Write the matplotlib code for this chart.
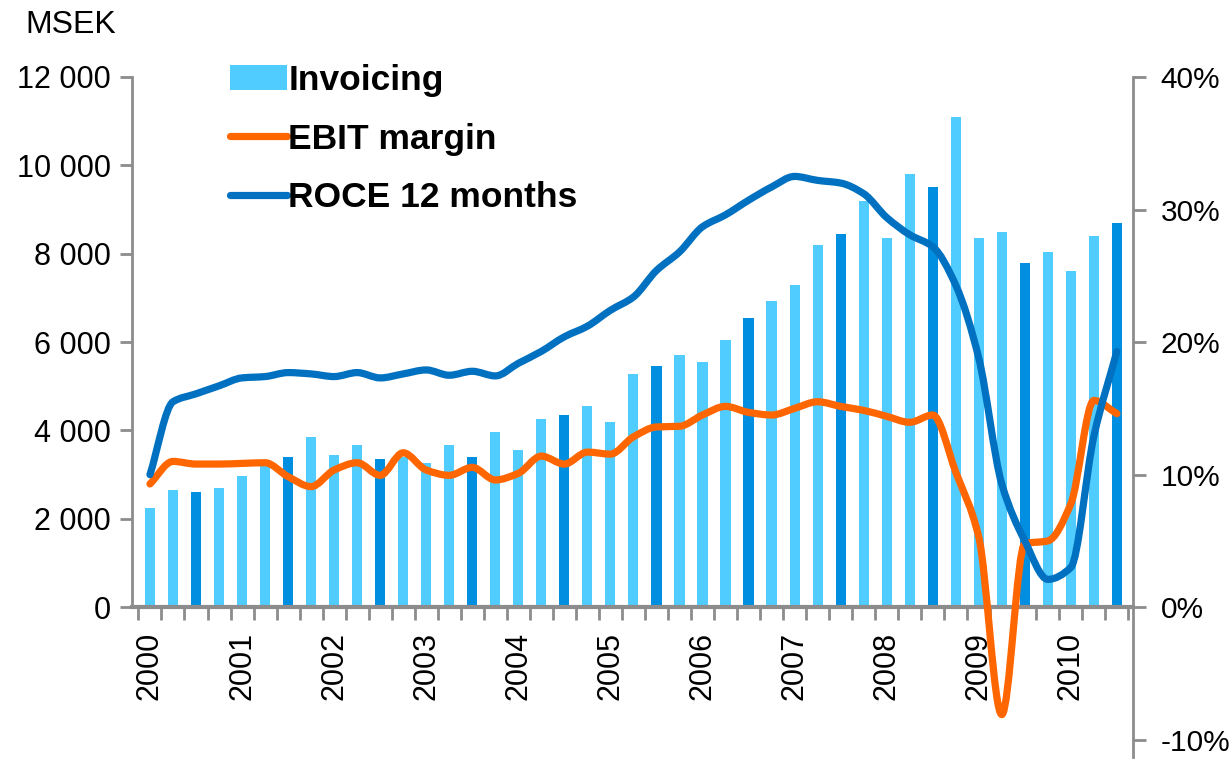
import matplotlib
matplotlib.use("Agg")
import matplotlib.pyplot as plt
from matplotlib.path import Path
from matplotlib.patches import PathPatch, Patch
from matplotlib.lines import Line2D
from matplotlib.ticker import FuncFormatter
import numpy as np

plt.rcParams['font.family'] = ['Liberation Sans', 'DejaVu Sans']

# quarterly data, 2000 Q1 .. 2010 Q3
years = [str(y) for y in range(2000, 2011)]

invoicing = [2250, 2650, 2600, 2700, 2970, 3250, 3400, 3850,
             3450, 3670, 3350, 3400, 3270, 3670, 3400, 3960,
             3550, 4250, 4350, 4550, 4200, 5270, 5450, 5700,
             5550, 6050, 6550, 6920, 7300, 8200, 8450, 9200,
             8350, 9800, 9500, 11100, 8350, 8500, 7800, 8050,
             7600, 8400, 8700]

ebit_margin = [9.3, 11.0, 10.8, 10.8, 10.85, 10.9, 9.85, 9.1,
               10.35, 10.9, 9.95, 11.65, 10.35, 9.95, 10.55, 9.6,
               10.1, 11.4, 10.8, 11.7, 11.55, 12.85, 13.6, 13.65,
               14.5, 15.15, 14.7, 14.5, 15.0, 15.5, 15.15, 14.85,
               14.4, 13.95, 14.5, 10.2, 5.3, -8.1, 4.8, 5.0,
               7.8, 15.6, 14.6]

roce = [10.0, 15.5, 16.1, 16.7, 17.3, 17.4, 17.7, 17.6,
        17.4, 17.7, 17.3, 17.6, 17.9, 17.5, 17.8, 17.45,
        18.4, 19.3, 20.4, 21.2, 22.4, 23.4, 25.4, 26.8,
        28.7, 29.6, 30.7, 31.7, 32.5, 32.2, 32.0, 31.2,
        29.4, 28.1, 27.2, 24.3, 18.8, 9.3, 5.0, 2.1,
        3.0, 12.9, 19.3]

light_blue = "#50CCFF"
dark_blue = "#008FE0"
orange = "#FF6600"
roce_blue = "#0070C0"
grey = "#8C8C8C"


def smooth_path(xs, ys):
    # smoothed line drawn as bezier segments through the points
    # (monotone tangents so it doesn't overshoot on the sharp drops)
    xs = np.asarray(xs, float)
    ys = np.asarray(ys, float)
    d = np.diff(ys) / np.diff(xs)
    m = np.empty_like(ys)
    m[0], m[-1] = d[0], d[-1]
    for k in range(1, len(ys) - 1):
        if d[k - 1] * d[k] <= 0:
            m[k] = 0.0
        else:
            m[k] = 2.0 / (1.0 / d[k - 1] + 1.0 / d[k])
    verts = [(xs[0], ys[0])]
    codes = [Path.MOVETO]
    for i in range(len(xs) - 1):
        h = xs[i + 1] - xs[i]
        verts += [(xs[i] + h / 3, ys[i] + m[i] * h / 3),
                  (xs[i + 1] - h / 3, ys[i + 1] - m[i + 1] * h / 3),
                  (xs[i + 1], ys[i + 1])]
        codes += [Path.CURVE4] * 3
    return Path(verts, codes)


fig = plt.figure(figsize=(12.3, 7.64), dpi=100)
pct_low, pct_high = -11.3, 40
ax = fig.add_axes([132 / 1230, 1 - 757 / 764, (1133 - 132) / 1230, (757 - 77) / 764])
ax2 = ax.twinx()

x = np.arange(len(invoicing))
colors = [dark_blue if i % 4 == 2 else light_blue for i in x]
ax.bar(x, invoicing, width=0.44, color=colors, zorder=2)

ax.set_xlim(-0.78, len(invoicing) - 0.3)
ax.set_ylim(pct_low / pct_high * 12000, 12000)
ax2.set_ylim(pct_low, pct_high)

for p, c in [(smooth_path(x, ebit_margin), orange), (smooth_path(x, roce), roce_blue)]:
    ax2.add_patch(PathPatch(p, facecolor="none", edgecolor=c, lw=5.2,
                            capstyle="round", joinstyle="round", zorder=3))

# left axis
ax.set_yticks(np.arange(0, 12001, 2000))
ax.yaxis.set_major_formatter(FuncFormatter(lambda v, _: f"{int(v):,}".replace(",", " ")))
ax.spines["left"].set_bounds(0, 12000)
ax.spines["top"].set_visible(False)
ax.spines["right"].set_visible(False)
ax.spines["bottom"].set_position(("data", 0))
for s in ["left", "bottom"]:
    ax.spines[s].set_color(grey)
ax.spines["left"].set_linewidth(2)
ax.spines["bottom"].set_linewidth(3)
ax.tick_params(axis="y", length=9, width=2, color=grey, labelsize=22, pad=6)

# x axis: year labels at Q1, tick marks between quarters
ax.set_xticks(np.arange(0, len(invoicing), 4), years, rotation=90)
ax.set_xticks(np.arange(-0.5, len(invoicing), 1), minor=True)
ax.tick_params(axis="x", which="major", length=0, labelsize=22, pad=18)
ax.tick_params(axis="x", which="minor", length=9, width=2, color=grey)

# right axis
ax2.set_yticks(np.arange(-10, 41, 10))
ax2.yaxis.set_major_formatter(FuncFormatter(lambda v, _: f"{int(v)}%"))
for s in ["left", "top", "bottom"]:
    ax2.spines[s].set_visible(False)
ax2.spines["right"].set_color(grey)
ax2.spines["right"].set_linewidth(2)
ax2.tick_params(axis="y", length=9, width=2, color=grey, labelsize=21.5, pad=11)

fig.text(25 / 1230, 1 - 10 / 764, "MSEK", fontsize=23, va="top", ha="left")

handles = [Patch(facecolor=light_blue, edgecolor="none"),
           Line2D([], [], color=orange, lw=5.2, solid_capstyle="round"),
           Line2D([], [], color=roce_blue, lw=5.2, solid_capstyle="round")]
ax.legend(handles, ["Invoicing", "EBIT margin", "ROCE 12 months"],
          loc="upper left", bbox_to_anchor=(230 / 1230, 1 - 64 / 764),
          bbox_transform=fig.transFigure, frameon=False, borderpad=0,
          borderaxespad=0, handlelength=1.6, handletextpad=0.05,
          labelspacing=0.72, prop={"weight": "bold", "size": 25.5})

fig.savefig("out.png", dpi=100)
